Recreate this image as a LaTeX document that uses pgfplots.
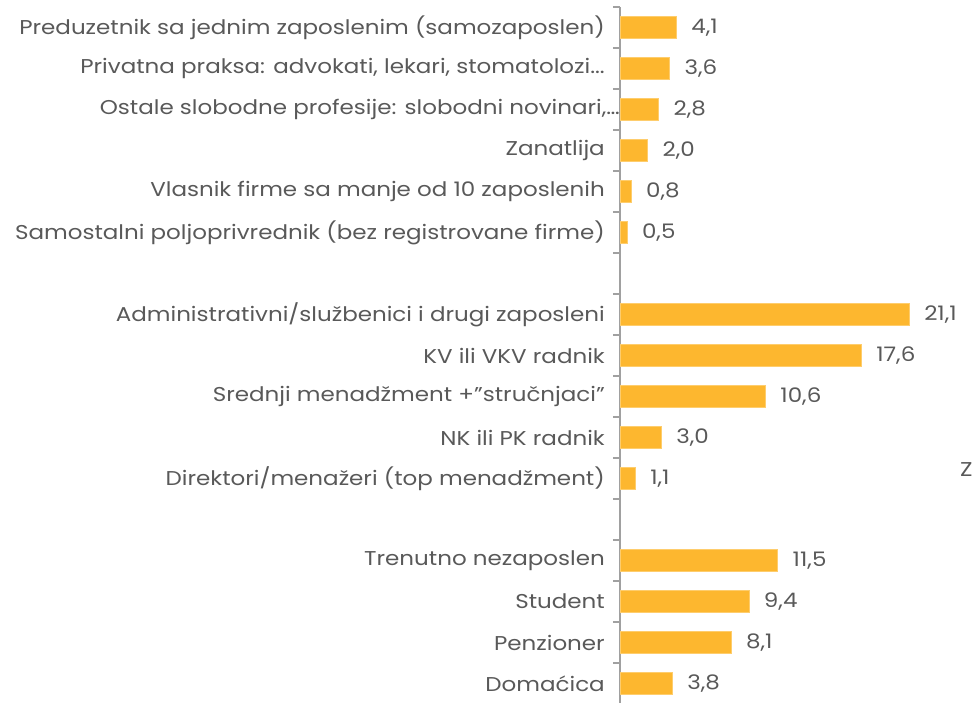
\documentclass[border=0pt]{standalone}
\usepackage{pgfplots}
\pgfplotsset{compat=1.18}
\usepackage{fontspec}
\setmainfont{Poppins}[FakeStretch=1.15]
\definecolor{barc}{HTML}{FDB72F}
\definecolor{txt}{HTML}{595959}
\definecolor{axc}{HTML}{A0A0A0}
\newcommand{\lf}{\fontsize{20}{23}\selectfont}
\begin{document}
\begin{tikzpicture}[x=1pt,y=1pt]
\useasboundingbox (0,0) rectangle (974,702);
\begin{axis}[
 at={(620pt,-2pt)}, anchor=south west,
 scale only axis, width=354pt, height=697pt,
 xmin=0, xmax=25.84,
 ymin=-0.5, ymax=16.5, y dir=reverse,
 axis x line=none, axis y line*=left,
 axis line style={draw=axc, line width=1.2pt},
 ytick={-0.5,0.5,1.5,2.5,3.5,4.5,5.5,6.5,7.5,8.5,9.5,10.5,11.5,12.5,13.5,14.5,15.5,16.5},
 yticklabels={
  Preduzetnik sa jednim zaposlenim (samozaposlen),
  {Privatna praksa: advokati, lekari, stomatolozi.\kern0pt.\kern0pt.},
  {Ostale slobodne profesije: slobodni novinari,…\hspace*{-15pt}},
  Zanatlija,
  Vlasnik firme sa manje od 10 zaposlenih,
  Samostalni poljoprivrednik (bez registrovane firme),
  {},
  Administrativni/službenici i drugi zaposleni,
  KV ili VKV radnik,
  Srednji menadžment +”stručnjaci”,
  NK ili PK radnik,
  Direktori/menažeri (top menadžment),
  {},
  Trenutno nezaposlen,
  Student,
  Penzioner,
  Domaćica,
  {}},
 major tick length=7pt, tick align=outside,
 ytick style={draw=axc, line width=1.2pt},
 yticklabel style={font=\lf, text=txt, inner sep=0pt, xshift=-8pt, yshift=-20.5pt},
 clip=false,
]
\addplot[xbar, bar width=22pt, fill=barc, draw=barc!70!white,
 point meta=x,
 nodes near coords={\pgfmathprintnumber[fixed,fixed zerofill,precision=1,use comma,assume math mode=true]{\pgfplotspointmeta}},
 every node near coord/.append style={font=\lf, text=txt, anchor=west, inner sep=0pt, xshift=15pt}]
 coordinates {
 (4.1,0) (3.6,1) (2.8,2) (2.0,3) (0.8,4) (0.5,5)
 (21.1,7) (17.6,8) (10.6,9) (3.0,10) (1.1,11)
 (11.5,13) (9.4,14) (8.1,15) (3.8,16)};
\pgfplotsinvokeforeach{-0.5,0.5,1.5,2.5,3.5,4.5,5.5,6.5,7.5,8.5,9.5,10.5,11.5,12.5,13.5,14.5,15.5,16.5}{
 \draw[axc, line width=1.2pt] (axis cs:0,#1) -- ++(-7pt,0pt);
}
\end{axis}
\node[anchor=west, font=\lf, text=txt, inner sep=0pt] at (960,232) {Z};
\end{tikzpicture}
\end{document}
